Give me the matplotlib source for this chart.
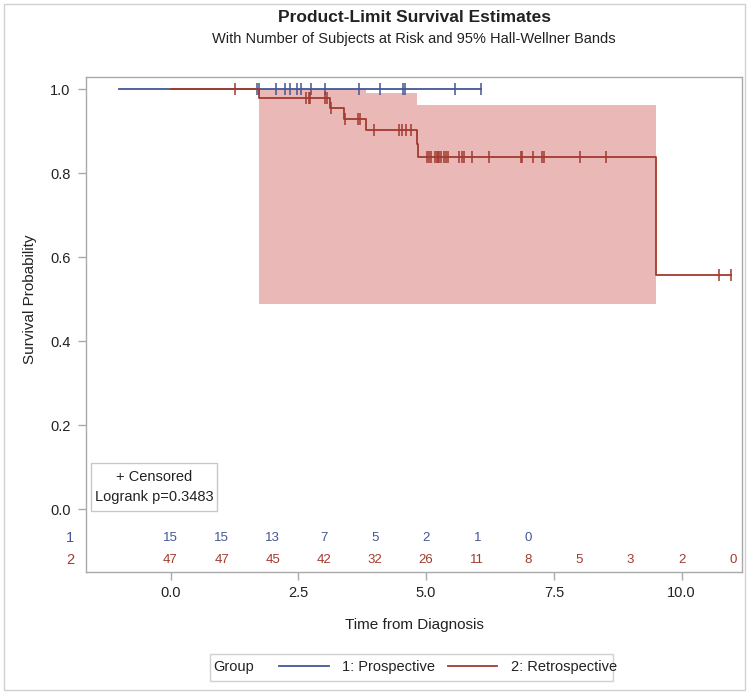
import matplotlib
matplotlib.use('Agg')
import matplotlib.pyplot as plt
from matplotlib.patches import Rectangle
import matplotlib.transforms as mtransforms

plt.rcParams['font.family'] = ['Liberation Sans', 'DejaVu Sans']

# ---------------- data ----------------
group_labels = ['1: Prospective', '2: Retrospective']
group_codes = ['1', '2']

# Group 1 (Prospective): no events, only censored observations
pro_start = -1.0
pro_events = []
pro_censor = [1.69, 1.73, 2.06, 2.24, 2.33, 2.47, 2.55, 2.75, 3.02, 3.69,
              4.10, 4.54, 4.58, 5.57, 6.08]

# Group 2 (Retrospective)
ret_start = 0.0
ret_events = [1.74, 3.12, 3.40, 3.83, 4.82, 4.85, 9.50]
ret_censor = [1.26, 2.65, 2.70, 2.73, 3.02, 3.07, 3.13, 3.41, 3.66, 3.71,
              3.99, 4.47, 4.53, 4.60, 4.70, 5.01, 5.06, 5.09, 5.17, 5.21,
              5.23, 5.26, 5.29, 5.35, 5.39, 5.43, 5.64, 5.70, 5.74, 5.89,
              6.24, 6.85, 6.88, 7.09, 7.26, 7.31, 8.02, 8.51, 10.73, 10.96]

# 95% Hall-Wellner band for group 2
band_time = [1.74, 3.83, 4.82, 9.50]
band_upper = [1.0, 0.991, 0.961, 0.961]
band_lower = [0.488, 0.488, 0.488, 0.488]

# number at risk
risk_times = [0, 1, 2, 3, 4, 5, 6, 7, 8, 9, 10, 11]
pro_risk = [15, 15, 13, 7, 5, 2, 1, 0]
ret_risk = [47, 47, 45, 42, 32, 26, 11, 8, 5, 3, 2, 0]

logrank_p = 0.3483

x_ticks = [0.0, 2.5, 5.0, 7.5, 10.0]
y_ticks = [0.0, 0.2, 0.4, 0.6, 0.8, 1.0]

# ---------------- style ----------------
c_blue = '#445694'
c_red = '#A23A2E'
c_band = '#EAB8B7'
c_grey = '#A9A9A9'
c_text = '#222222'


def kaplan_meier(start, events, censor):
    times = sorted(set(events) | set(censor))
    at_risk = len(events) + len(censor)
    s = 1.0
    xs, ys = [start], [1.0]
    cx, cy = [], []
    for t in times:
        d = events.count(t)
        c = censor.count(t)
        if d:
            s *= (at_risk - d) / at_risk
        xs.append(t)
        ys.append(s)
        for _ in range(c):
            cx.append(t)
            cy.append(s)
        at_risk -= d + c
    return xs, ys, cx, cy


fig = plt.figure(figsize=(7.49, 6.94), dpi=100)
W, H = 749, 694
ax_l, ax_r, ax_t, ax_b = 86, 742, 77, 572
ax = fig.add_axes([ax_l / W, 1 - ax_b / H, (ax_r - ax_l) / W, (ax_b - ax_t) / H])

# outer frame
fig.patches.append(Rectangle((4 / W, 4 / H), 741 / W, 686 / H, transform=fig.transFigure,
                             fill=False, edgecolor='#D0D0D0', lw=1.0))

# band
ax.fill_between(band_time, band_lower, band_upper, step='post', color=c_band,
                linewidth=0, zorder=1)

# curves
px, py, pcx, pcy = kaplan_meier(pro_start, pro_events, pro_censor)
rx, ry, rcx, rcy = kaplan_meier(ret_start, ret_events, ret_censor)

l1, = ax.step(px, py, where='post', color=c_blue, lw=1.3, zorder=2)
ax.plot(pcx, pcy, linestyle='none', marker='|', ms=8, mew=1.1, color=c_blue, zorder=2)
l2, = ax.step(rx, ry, where='post', color=c_red, lw=1.3, zorder=3)
ax.plot(rcx, rcy, linestyle='none', marker='|', ms=8, mew=1.1, color=c_red, zorder=3)

# axes
ax.set_xlim(-1.654, 11.18)
ax.set_ylim(-0.15, 1.0286)
ax.set_xticks(x_ticks)
ax.set_xticklabels([f'{v:.1f}' for v in x_ticks])
ax.set_yticks(y_ticks)
ax.set_yticklabels([f'{v:.1f}' for v in y_ticks])
for sp in ax.spines.values():
    sp.set_color(c_grey)
    sp.set_linewidth(1.0)
ax.tick_params(direction='out', length=6, width=1, color=c_grey, labelsize=10.5,
               labelcolor=c_text)
ax.tick_params(axis='x', pad=4)
ax.tick_params(axis='y', pad=5)
ax.set_xlabel('Time from Diagnosis', fontsize=11, color=c_text, labelpad=13)
ax.set_ylabel('Survival Probability', fontsize=11, color=c_text)
ax.yaxis.set_label_coords((37 - ax_l) / (ax_r - ax_l), (ax_b - 299) / (ax_b - ax_t))

# at-risk table
y_blue = -(538 - 509) / 420
y_red = -(560 - 509) / 420
for t, n in zip(risk_times, pro_risk):
    ax.text(t, y_blue, str(n), color=c_blue, fontsize=9.5, ha='center', va='center')
for t, n in zip(risk_times, ret_risk):
    ax.text(t, y_red, str(n), color=c_red, fontsize=9.5, ha='center', va='center')
blend = mtransforms.blended_transform_factory(ax.transAxes, ax.transData)
xlab = (70 - ax_l) / (ax_r - ax_l)
ax.text(xlab, y_blue, group_codes[0], color=c_blue, fontsize=10.5, ha='center',
        va='center', transform=blend, clip_on=False)
ax.text(xlab, y_red, group_codes[1], color=c_red, fontsize=10.5, ha='center',
        va='center', transform=blend, clip_on=False)

# inset box
aw, ah = ax_r - ax_l, ax_b - ax_t
ax.add_patch(Rectangle(((91 - ax_l) / aw, (ax_b - 511) / ah), 126 / aw, 48 / ah,
                       transform=ax.transAxes, fill=True, facecolor='white',
                       edgecolor='#C8C8C8', lw=1.0, zorder=4))
ax.text((154 - ax_l) / aw, (ax_b - 477) / ah, '+ Censored', transform=ax.transAxes,
        ha='center', va='center', fontsize=10.5, color=c_text, zorder=5)
ax.text((154 - ax_l) / aw, (ax_b - 497) / ah, f'Logrank p={logrank_p:.4f}',
        transform=ax.transAxes, ha='center', va='center', fontsize=10.5,
        color=c_text, zorder=5)

# titles
cx = ((ax_l + ax_r) / 2) / W
fig.text(cx, 1 - 18 / H, 'Product-Limit Survival Estimates', ha='center', va='center',
         fontsize=12.5, fontweight='bold', color=c_text)
fig.text(cx, 1 - 39 / H, 'With Number of Subjects at Risk and 95% Hall-Wellner Bands',
         ha='center', va='center', fontsize=10.5, color=c_text)

# legend
fig.patches.append(Rectangle((210 / W, 1 - 681 / H), 403 / W, 27 / H,
                             transform=fig.transFigure, fill=False,
                             edgecolor='#D0D0D0', lw=1.0))
fig.text(213 / W, 1 - 667 / H, 'Group', ha='left', va='center', fontsize=10.5,
         color=c_text)
fig.legend(handles=[l1, l2], labels=group_labels, loc='center left',
           bbox_to_anchor=(279 / W, 1 - 667 / H), bbox_transform=fig.transFigure,
           ncol=2, frameon=False, fontsize=10.5, handlelength=3.4,
           handletextpad=0.9, columnspacing=0.9, borderpad=0, borderaxespad=0,
           labelcolor=c_text)

fig.savefig('out.png', dpi=100)
